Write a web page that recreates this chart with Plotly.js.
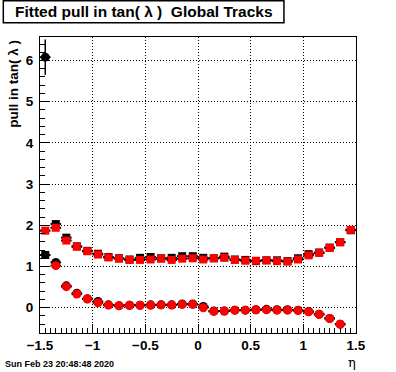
<!DOCTYPE html>
<html>
<head>
<meta charset="utf-8">
<script src="https://cdn.plot.ly/plotly-3.0.1.min.js"></script>
<style>html,body{margin:0;padding:0;background:#fff;}#chart{width:396px;height:372px;}</style>
</head>
<body>
<div id="chart"></div>
<script>
// eta bin centres
const eta = [-1.45,-1.35,-1.25,-1.15,-1.05,-0.95,-0.85,-0.75,-0.65,-0.55,-0.45,-0.35,-0.25,-0.15,-0.05,
             0.05,0.15,0.25,0.35,0.45,0.55,0.65,0.75,0.85,0.95,1.05,1.15,1.25,1.35,1.45];
// black series: width (squares) and mean (circles) of the pull
const sigmaBlack = [1.28,2.03,1.70,1.49,1.38,1.31,1.23,1.20,1.17,1.21,1.23,1.20,1.21,1.25,1.25,
                    1.21,1.20,1.24,1.17,1.16,1.13,1.15,1.15,1.13,1.20,1.30,1.34,1.46,1.59,1.88];
const meanBlack  = [6.08,1.10,0.53,0.35,0.22,0.15,0.07,0.05,0.06,0.06,0.07,0.07,0.07,0.09,0.09,
                    0.03,-0.08,-0.08,-0.06,-0.06,-0.05,-0.04,-0.05,-0.05,-0.06,-0.09,-0.16,-0.26,-0.40,null];
const meanBlackErr = [0.43,0.03,0.02,0.02,0.02,0.02,0.02,0.02,0.02,0.02,0.02,0.02,0.02,0.02,0.02,
                      0.02,0.02,0.02,0.02,0.02,0.02,0.02,0.02,0.02,0.02,0.02,0.02,0.02,0.03,0];
const sigmaBlackErr = [0.05,0.04,0.03,0.02,0.02,0.02,0.02,0.02,0.02,0.02,0.02,0.02,0.02,0.02,0.02,
                       0.02,0.02,0.02,0.02,0.02,0.02,0.02,0.02,0.02,0.02,0.02,0.02,0.02,0.03,0.04];
// red series
const sigmaRed = [1.87,1.94,1.63,1.48,1.37,1.29,1.22,1.19,1.16,1.16,1.17,1.19,1.16,1.19,1.20,
                  1.17,1.20,1.21,1.16,1.14,1.14,1.15,1.13,1.12,1.17,1.27,1.33,1.45,1.59,1.89];
const meanRed  = [null,1.02,0.51,0.33,0.21,0.12,0.065,0.05,0.06,0.06,0.06,0.07,0.065,0.08,0.08,
                  0.00,-0.09,-0.08,-0.06,-0.06,-0.05,-0.05,-0.06,-0.06,-0.07,-0.10,-0.16,-0.26,-0.40,null];
const binHalfWidth = 0.05;
const xTickVals = [-1.5,-1,-0.5,0,0.5,1,1.5];
const xTickText = ['\u22121.5','\u22121','\u22120.5','0','0.5','1','1.5'];
const yTickVals = [0,1,2,3,4,5,6];

const errX = {type:'constant', value:binHalfWidth, color:'#000', thickness:2, width:0};
function errY(arr){ return {type:'data', array:arr, color:'#000', thickness:1.5, width:0}; }

const traces = [
  {x:eta, y:sigmaBlack, type:'scatter', mode:'markers',
   marker:{symbol:'square', size:8, color:'#000'}, error_x:errX, error_y:errY(sigmaBlackErr)},
  {x:eta, y:meanBlack, type:'scatter', mode:'markers',
   marker:{symbol:'circle', size:9, color:'#000'}, error_x:errX, error_y:errY(meanBlackErr)},
  {x:eta, y:sigmaRed, type:'scatter', mode:'markers',
   marker:{symbol:'square', size:8, color:'#ff0000'}, error_x:errX, error_y:errY(sigmaBlackErr)},
  {x:eta, y:meanRed, type:'scatter', mode:'markers',
   marker:{symbol:'circle', size:9, color:'#ff0000'}, error_x:errX, error_y:errY(meanBlackErr)}
];

const font = 'Liberation Sans, Arial, Helvetica, sans-serif';
const layout = {
  width:396, height:372,
  margin:{l:40, r:40, t:37, b:39, pad:0},
  paper_bgcolor:'#fff', plot_bgcolor:'#fff',
  showlegend:false,
  font:{family:font, color:'#000'},
  xaxis:{
    range:[-1.5,1.5], tickvals:xTickVals, ticktext:xTickText,
    ticks:'inside', ticklen:9, tickwidth:1, tickcolor:'#000',
    minor:{dtick:0.05, ticks:'inside', ticklen:5, tickwidth:1, tickcolor:'#000', showgrid:false},
    showgrid:true, gridcolor:'#000', griddash:'1px,2px', gridwidth:1,
    zeroline:false, showline:true, linecolor:'#000', linewidth:1, mirror:true,
    tickfont:{family:font, size:13.5, weight:'bold', color:'#000'},
    ticklabelstandoff:0
  },
  yaxis:{
    range:[-0.614,6.57], tickvals:yTickVals,
    ticks:'inside', ticklen:9, tickwidth:1, tickcolor:'#000',
    minor:{dtick:0.2, ticks:'inside', ticklen:5, tickwidth:1, tickcolor:'#000', showgrid:false},
    showgrid:true, gridcolor:'#000', griddash:'1px,2px', gridwidth:1,
    zeroline:false, showline:true, linecolor:'#000', linewidth:1, mirror:true,
    tickfont:{family:font, size:13.5, weight:'bold', color:'#000'},
    ticklabelstandoff:3
  },
  shapes:[
    {type:'rect', xref:'paper', yref:'paper', x0:-0.1161, x1:0.772, y0:1.0483, y1:1.1226,
     line:{color:'#000', width:1.5}, fillcolor:'#fff', layer:'above'}
  ],
  annotations:[
    {text:'Fitted pull in tan( \u03bb )  Global Tracks', xref:'paper', yref:'paper',
     x:0.328, y:1.0855, xanchor:'center', yanchor:'middle', showarrow:false,
     font:{family:font, size:15.5, weight:'bold', color:'#000'}},
    {text:'pull in tan( \u03bb )', xref:'paper', yref:'paper', x:-0.0845, y:0.843,
     xanchor:'center', yanchor:'middle', textangle:-90, showarrow:false,
     font:{family:font, size:13.5, weight:'bold', color:'#000'}},
    {text:'\u03b7', xref:'paper', yref:'paper', x:0.987, y:-0.101,
     xanchor:'center', yanchor:'middle', showarrow:false,
     font:{family:'DejaVu Serif, serif', size:13, color:'#000'}},
    {text:'Sun Feb 23 20:48:48 2020', xref:'paper', yref:'paper', x:-0.1161, y:-0.1047,
     xanchor:'left', yanchor:'middle', showarrow:false,
     font:{family:font, size:9, weight:'bold', color:'#000'}}
  ]
};

Plotly.newPlot('chart', traces, layout, {staticPlot:true, displayModeBar:false});
</script>
</body>
</html>
